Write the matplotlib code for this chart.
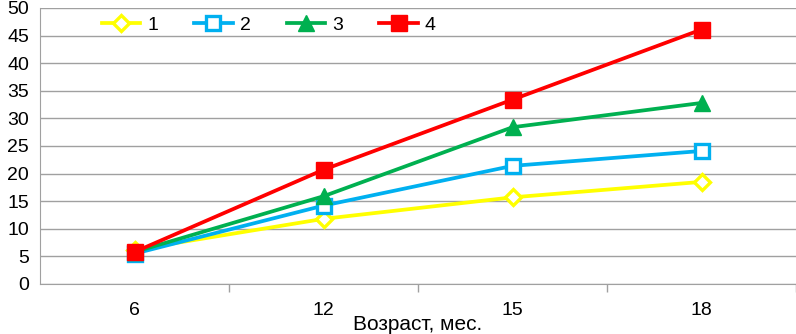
import matplotlib.pyplot as plt

plt.rcParams['font.family'] = ['Liberation Sans', 'DejaVu Sans']

ages = ['6', '12', '15', '18']
s1 = [6.2, 11.8, 15.7, 18.5]
s2 = [5.5, 14.2, 21.4, 24.1]
s3 = [5.8, 15.9, 28.4, 32.8]
s4 = [5.8, 20.7, 33.4, 46.1]
names = ['1', '2', '3', '4']

fig = plt.figure(figsize=(7.96, 3.34), dpi=100)
ax = fig.add_axes([40 / 796, 50 / 334, 756 / 796, 276 / 334])

x = range(len(ages))
ax.plot(x, s1, color='#FFFF00', lw=2.7, marker='D', ms=8.5, mfc='white', mec='#FFFF00', mew=2.4, label=names[0])
ax.plot(x, s2, color='#00B0F0', lw=2.7, marker='s', ms=10.5, mfc='white', mec='#00B0F0', mew=2.4, label=names[1])
ax.plot(x, s3, color='#00B050', lw=2.7, marker='^', ms=12, label=names[2])
ax.plot(x, s4, color='#FF0000', lw=2.7, marker='s', ms=12, label=names[3])

ax.set_xlim(-0.5, 3.5)
ax.set_ylim(0, 50)
ax.set_yticks(range(0, 51, 5))
ax.set_xticks(list(x))
ax.set_xticklabels(ages)
ax.set_xticks([0.5, 1.5, 2.5, 3.5], minor=True)
ax.tick_params(axis='x', which='major', length=0, labelsize=14, pad=13)
ax.tick_params(axis='x', which='minor', length=6, color='#A0A0A0', width=1)
ax.tick_params(axis='y', length=0, labelsize=14, pad=8)
ax.grid(axis='y', color='#A0A0A0', lw=1)
ax.set_axisbelow(True)
for s in ['top', 'right']:
    ax.spines[s].set_visible(False)
for s in ['left', 'bottom']:
    ax.spines[s].set_color('#A0A0A0')
ax.set_xlabel('Возраст, мес.', fontsize=15, labelpad=-3)

ax.legend(ncol=4, frameon=False, fontsize=14, loc='center left',
          bbox_to_anchor=(84 / 796, 1 - 25 / 334), bbox_transform=fig.transFigure,
          handlelength=2.0, columnspacing=1.85, handletextpad=0.35)

fig.savefig('out.png', dpi=100)
